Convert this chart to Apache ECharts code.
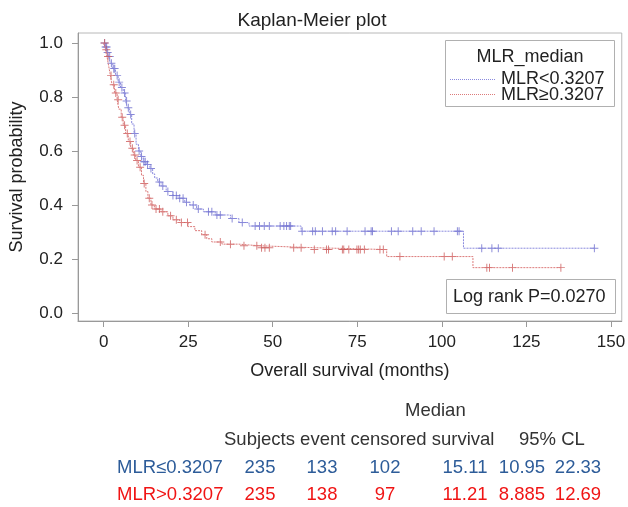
<!DOCTYPE html>
<html>
<head>
<meta charset="utf-8">
<script src="https://cdn.jsdelivr.net/npm/echarts@6/dist/echarts.min.js"></script>
<style>
  html, body { margin: 0; padding: 0; background: #fff; }
  #main { width: 628px; height: 507px; }
</style>
</head>
<body>
<div id="main"></div>
<script>
// Kaplan-Meier step curves (time in months, survival probability after the event)
const lowTimes = [0, 0.5, 1.0, 1.5, 2.0, 2.7, 3.5, 4.3, 5.0, 5.8, 6.5, 7.0, 7.6, 8.3, 9.0, 9.6, 10.3, 11.0, 11.7, 12.8, 13.7, 14.5, 15.1, 16.0, 17.0, 18.5, 20.5, 22.0, 24.0, 25.5, 27.5, 29.5, 33.0, 37.5, 40.0, 43.0, 58.4, 106.4, 145.1];
const lowSurv  = [1.0, 0.985, 0.965, 0.95, 0.925, 0.905, 0.88, 0.855, 0.835, 0.815, 0.785, 0.76, 0.735, 0.70, 0.665, 0.625, 0.60, 0.58, 0.56, 0.55, 0.535, 0.515, 0.50, 0.485, 0.47, 0.45, 0.435, 0.425, 0.41, 0.40, 0.385, 0.375, 0.363, 0.35, 0.335, 0.322, 0.303, 0.24, 0.24];
const lowCensor = [0.3, 0.6, 0.9, 1.2, 1.8, 2.3, 3.0, 3.3, 4.0, 4.6, 5.4, 6.2, 6.8, 7.3, 8.0, 9.2, 10.5, 11.2, 11.9, 12.3, 13.0, 14.0, 16.5, 17.5, 19.0, 20.5, 21.5, 22.5, 23.5, 24.5, 26.5, 28.0, 31.0, 32.0, 33.5, 34.5, 38.0, 41.0, 44.8, 46.1, 47.5, 49.0, 52.2, 53.3, 54.1, 54.9, 55.3, 58.7, 61.8, 62.6, 64.7, 67.6, 68.6, 72.0, 77.3, 79.1, 79.5, 85.1, 87.1, 91.4, 93.9, 97.7, 104.6, 105.1, 111.8, 114.8, 116.7, 145.1];

const highTimes = [0, 0.5, 1.0, 1.5, 2.0, 2.5, 3.2, 4.0, 4.5, 5.2, 5.8, 6.5, 7.3, 8.0, 8.8, 9.5, 10.3, 11.2, 11.8, 12.5, 13.1, 14.0, 15.0, 17.0, 19.0, 20.5, 22.5, 25.0, 27.0, 29.0, 30.5, 32.0, 35.0, 40.0, 46.0, 61.8, 83.7, 109.2, 135.2];
const highSurv  = [1.0, 0.975, 0.95, 0.915, 0.88, 0.845, 0.815, 0.79, 0.755, 0.725, 0.695, 0.665, 0.635, 0.61, 0.585, 0.565, 0.54, 0.51, 0.48, 0.45, 0.425, 0.40, 0.385, 0.375, 0.36, 0.345, 0.335, 0.32, 0.305, 0.29, 0.275, 0.263, 0.255, 0.249, 0.242, 0.235, 0.209, 0.168, 0.168];
const highCensor = [0.3, 0.8, 1.3, 2.2, 3.0, 3.6, 4.3, 5.5, 6.2, 7.0, 7.8, 8.5, 9.2, 9.9, 10.8, 12.0, 13.5, 14.3, 15.5, 16.5, 17.5, 19.8, 21.5, 23.0, 24.8, 30.0, 34.5, 37.5, 41.5, 45.3, 46.7, 47.7, 49.0, 56.2, 58.4, 62.3, 65.9, 66.5, 70.6, 71.0, 72.5, 74.9, 75.4, 75.9, 77.1, 81.7, 82.7, 87.6, 100.7, 103.1, 113.3, 114.1, 120.9, 135.2];

const xTicks = [0, 25, 50, 75, 100, 125, 150];
const yTicks = [0, 0.2, 0.4, 0.6, 0.8, 1.0];

const groupNames = ['MLR<0.3207', 'MLR\u22650.3207'];
const tableHeader = ['Subjects', 'event', 'censored', 'survival', '95% CL'];
const tableRows = ['MLR\u22640.3207', 'MLR>0.3207'];
const tableValues = [
    ['235', '133', '102', '15.11', '10.95', '22.33'],
    ['235', '138', '97', '11.21', '8.885', '12.69']
];

const blueLine = '#8a8ade', blueMark = '#6a6acc';
const redLine = '#dc7a7a', redMark = '#cc5a5a';
const tableColors = ['#2d5c99', '#f01414'];
const FONT = 'Liberation Sans';

function survAt(times, surv, t) {
    let s = surv[0];
    for (let i = 0; i < times.length; i++) {
        if (times[i] <= t) s = surv[i];
    }
    return s;
}

function stepData(times, surv) {
    return times.map((t, i) => [t, surv[i]]);
}

function censorData(cens, times, surv) {
    return cens.map(t => [t, survAt(times, surv, t)]);
}

const plus = 'path://M4.4,0H5.6V4.4H10V5.6H5.6V10H4.4V5.6H0V4.4H4.4Z';

const chart = echarts.init(document.getElementById('main'));

// table below the plot
const colCenters = [260, 322, 385, 465, 522, 578];
const tf = '18.5px ' + FONT;
const tableGraphics = [
    {type: 'text', left: 405, top: 401, style: {text: 'Median', font: tf, fill: '#333'}},
    {type: 'text', left: 224, top: 430, style: {text: tableHeader.slice(0, 4).join(' '), font: tf, fill: '#333'}},
    {type: 'text', left: 519, top: 430, style: {text: tableHeader[4], font: tf, fill: '#333'}}
];
tableRows.forEach((name, r) => {
    const y = 468 + r * 27;
    tableGraphics.push({type: 'text', x: 117, y: y, style: {text: name, font: tf, fill: tableColors[r], textVerticalAlign: 'middle'}});
    tableValues[r].forEach((v, c) => {
        tableGraphics.push({type: 'text', x: colCenters[c], y: y, style: {text: v, font: tf, fill: tableColors[r], textAlign: 'center', textVerticalAlign: 'middle'}});
    });
});

const option = {
    animation: false,
    backgroundColor: '#fff',
    title: {
        text: 'Kaplan-Meier plot',
        left: 307,
        textAlign: 'center',
        top: 6,
        textStyle: {fontFamily: FONT, fontSize: 19, fontWeight: 'normal', color: '#222'}
    },
    grid: {
        left: 72, right: 4, top: 33, bottom: 186,
        show: true, borderColor: '#b8b8b8', borderWidth: 1
    },
    xAxis: {
        type: 'value',
        min: -7.57, max: 153.2,
        name: 'Overall survival (months)',
        nameLocation: 'middle',
        nameGap: 41,
        nameTextStyle: {fontFamily: FONT, fontSize: 18, color: '#222'},
        axisLine: {show: true, onZero: false, lineStyle: {color: '#999'}},
        axisTick: {show: true, length: 6, customValues: xTicks, lineStyle: {color: '#999'}},
        axisLabel: {customValues: xTicks, margin: 13, fontFamily: FONT, fontSize: 17, color: '#222'},
        splitLine: {show: false}
    },
    yAxis: {
        type: 'value',
        min: -0.0296, max: 1.037,
        name: 'Survival probability',
        nameLocation: 'middle',
        nameGap: 52,
        nameTextStyle: {fontFamily: FONT, fontSize: 18, color: '#222'},
        axisLine: {show: true, onZero: false, lineStyle: {color: '#999'}},
        axisTick: {show: true, length: 6, customValues: yTicks, lineStyle: {color: '#999'}},
        axisLabel: {customValues: yTicks, margin: 15, fontFamily: FONT, fontSize: 17, color: '#222',
            formatter: v => v.toFixed(1)},
        splitLine: {show: false}
    },
    series: [
        {
            name: groupNames[0], type: 'line', step: 'end', showSymbol: false,
            data: stepData(lowTimes, lowSurv),
            lineStyle: {color: blueLine, width: 1, type: [2, 1]}, silent: true
        },
        {
            name: groupNames[1], type: 'line', step: 'end', showSymbol: false,
            data: stepData(highTimes, highSurv),
            lineStyle: {color: redLine, width: 1, type: [2, 1]}, silent: true
        },
        {
            type: 'scatter', symbol: plus, symbolSize: 8,
            data: censorData(lowCensor, lowTimes, lowSurv),
            itemStyle: {color: blueMark, opacity: 0.8}, silent: true
        },
        {
            type: 'scatter', symbol: plus, symbolSize: 8,
            data: censorData(highCensor, highTimes, highSurv),
            itemStyle: {color: redMark, opacity: 0.8}, silent: true
        }
    ],
    graphic: [
        // legend box
        {type: 'rect', shape: {x: 445.5, y: 40.5, width: 169, height: 66}, style: {fill: '#fff', stroke: '#b0b0b0', lineWidth: 1}},
        {type: 'text', x: 530, y: 57, style: {text: 'MLR_median', font: '18px ' + FONT, fill: '#222', textAlign: 'center', textVerticalAlign: 'middle'}},
        {type: 'line', shape: {x1: 450, y1: 79.5, x2: 495, y2: 79.5}, style: {stroke: blueLine, lineWidth: 1, lineDash: [1, 1]}},
        {type: 'text', x: 501, y: 79, style: {text: groupNames[0], font: '18px ' + FONT, fill: '#222', textVerticalAlign: 'middle'}},
        {type: 'line', shape: {x1: 450, y1: 94.5, x2: 495, y2: 94.5}, style: {stroke: redLine, lineWidth: 1, lineDash: [1, 1]}},
        {type: 'text', x: 501, y: 95, style: {text: groupNames[1], font: '18px ' + FONT, fill: '#222', textVerticalAlign: 'middle'}},
        // log rank box
        {type: 'rect', shape: {x: 446.5, y: 279.5, width: 169, height: 34}, style: {fill: '#fff', stroke: '#b0b0b0', lineWidth: 1}},
        {type: 'text', x: 453, y: 297, style: {text: 'Log rank P=0.0270', font: '18px ' + FONT, fill: '#222', textVerticalAlign: 'middle'}}
    ].concat(tableGraphics)
};

chart.setOption(option);
</script>
</body>
</html>
